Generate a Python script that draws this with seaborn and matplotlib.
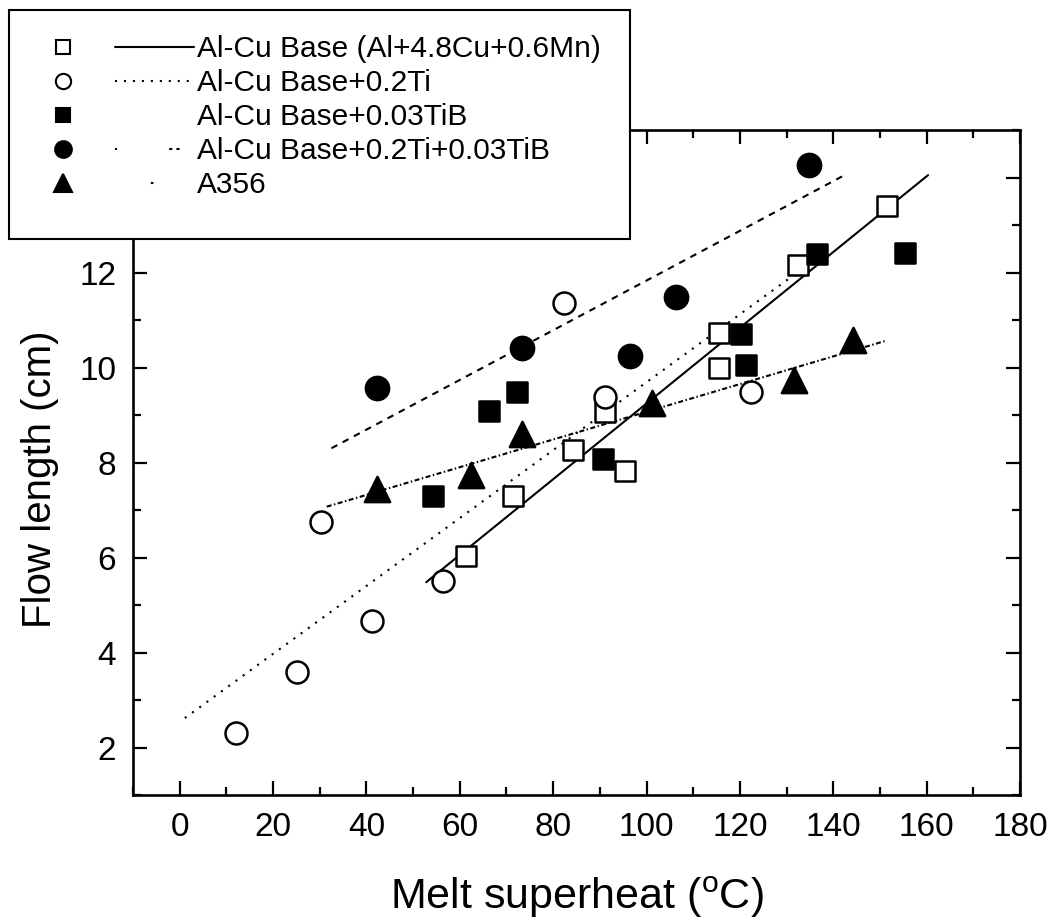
import numpy as np
import pandas as pd
import seaborn as sns
import matplotlib.pyplot as plt
from matplotlib import font_manager
from matplotlib.lines import Line2D
from matplotlib.patches import Rectangle
from matplotlib.legend_handler import HandlerBase
from matplotlib.ticker import MultipleLocator

# measured points (melt superheat in C, flow length in cm)
base_x = [61.3, 71.3, 84.3, 91.2, 95.3, 115.5, 115.5, 132.5, 151.6]
base_y = [6.03, 7.30, 8.27, 9.06, 7.82, 10.72, 10.00, 12.15, 13.40]
ti_x = [12.1, 25.2, 30.2, 41.1, 56.5, 82.4, 91.2, 122.3]
ti_y = [2.31, 3.59, 6.74, 4.67, 5.50, 11.35, 9.38, 9.48]
tib_x = [54.2, 66.3, 72.2, 90.6, 120.2, 121.2, 136.6, 155.3]
tib_y = [7.30, 9.08, 9.48, 8.08, 10.70, 10.05, 12.38, 12.41]
titib_x = [42.3, 73.4, 96.4, 106.3, 134.8]
titib_y = [9.57, 10.41, 10.24, 11.49, 14.26]
a356_x = [42.3, 62.3, 73.4, 101.1, 131.5, 144.3]
a356_y = [7.44, 7.74, 8.61, 9.25, 9.74, 10.58]

# linear fits as drawn in the figure (end points)
base_fit_x = [52.8, 160.3]
base_fit_y = [5.48, 14.05]
ti_fit_x = [1.1, 132.3]
ti_fit_y = [2.62, 12.00]
titib_fit_x = [32.5, 142.8]
titib_fit_y = [8.30, 14.07]
a356_fit_x = [31.5, 151.5]
a356_fit_y = [7.07, 10.57]

labels = ['Al-Cu Base (Al+4.8Cu+0.6Mn)', 'Al-Cu Base+0.2Ti', 'Al-Cu Base+0.03TiB',
          'Al-Cu Base+0.2Ti+0.03TiB', 'A356']

sns.set_style('ticks')
installed = {f.name for f in font_manager.fontManager.ttflist}
font = 'Liberation Sans Narrow' if 'Liberation Sans Narrow' in installed else 'Liberation Sans'
plt.rcParams['font.family'] = [font, 'DejaVu Sans']
plt.rcParams['mathtext.fontset'] = 'custom'
plt.rcParams['mathtext.rm'] = font
plt.rcParams.update({'text.color': 'black', 'axes.labelcolor': 'black',
                     'xtick.color': 'black', 'ytick.color': 'black',
                     'axes.edgecolor': 'black'})

DOTTED = (0, (1, 3.3))
DASHED = (0, (3.2, 2.9))
DASHDOT = (0, (2.4, 1.2, 0.7, 1.2))

fig = plt.figure(figsize=(10.53, 9.24), dpi=100)
ax = fig.add_axes([0.1263, 0.1396, 0.8424, 0.7197])

series = [
    (base_x, base_y, 's', 190, 'white'),
    (ti_x, ti_y, 'o', 250, 'white'),
    (tib_x, tib_y, 's', 210, 'black'),
    (titib_x, titib_y, 'o', 280, 'black'),
    (a356_x, a356_y, '^', 330, 'black'),
]
for xs, ys, mk, size, fc in series:
    sns.scatterplot(x=xs, y=ys, marker=mk, s=size, color=fc, edgecolor='black',
                    linewidth=1.8, ax=ax, zorder=3)

fits = [
    (base_fit_x, base_fit_y, '-'),
    (ti_fit_x, ti_fit_y, DOTTED),
    (titib_fit_x, titib_fit_y, DASHED),
    (a356_fit_x, a356_fit_y, DASHDOT),
]
for xs, ys, ls in fits:
    sns.lineplot(x=xs, y=ys, color='black', linewidth=1.5, linestyle=ls, ax=ax, zorder=2)

ax.set_xlim(-10, 180)
ax.set_ylim(1, 15)
ax.xaxis.set_major_locator(MultipleLocator(20))
ax.xaxis.set_minor_locator(MultipleLocator(10))
ax.yaxis.set_major_locator(MultipleLocator(2))
ax.yaxis.set_minor_locator(MultipleLocator(1))
ax.tick_params(which='both', direction='in', top=True, right=True, width=1.6,
               labelsize=24, pad=12)
ax.tick_params(which='major', length=10)
ax.tick_params(which='minor', length=6)
for sp in ax.spines.values():
    sp.set_linewidth(1.9)
ax.set_xlabel('Melt superheat ($^{\\rm o}$C)', fontsize=31, labelpad=23)
ax.set_ylabel('Flow length (cm)', fontsize=29)
ax.yaxis.set_label_coords(-0.083, 0.475)


# legend: marker on the left, line sample to its right
class Entry:
    def __init__(self, marker, fc, ms, ls):
        self.marker, self.fc, self.ms, self.ls = marker, fc, ms, ls


class MarkerThenLine(HandlerBase):
    def create_artists(self, legend, h, xdescent, ydescent, width, height, fontsize, trans):
        y = height / 2 - ydescent
        x0 = -xdescent
        arts = [Line2D([x0 + 0.15 * width], [y], linestyle='none', marker=h.marker,
                       markersize=h.ms, markerfacecolor=h.fc, markeredgecolor='black',
                       markeredgewidth=1.5, transform=trans)]
        if h.ls is not None:
            arts.append(Line2D([x0 + 0.49 * width, x0 + width], [y, y], color='black',
                               linewidth=1.5, linestyle=h.ls, transform=trans))
        return arts


entries = [
    Entry('s', 'white', 10, '-'),
    Entry('o', 'white', 11, DOTTED),
    Entry('s', 'black', 10, None),
    Entry('o', 'black', 12, (0, (1, 25, 1.5, 2, 1.5, 60))),
    Entry('^', 'black', 13, (84, (1.2, 100))),
]

fig.add_artist(Rectangle((0.0085, 0.7413), 0.590, 0.248, transform=fig.transFigure,
                         facecolor='white', edgecolor='black', linewidth=1.5, zorder=4))
fig.legend(entries, labels, handler_map={Entry: MarkerThenLine()},
           loc='upper left', bbox_to_anchor=(0.038, 0.962), frameon=False,
           fontsize=21.5, handlelength=5.15, handletextpad=0.1, labelspacing=0.2,
           borderpad=0, borderaxespad=0)

fig.savefig('out.png', dpi=100)
